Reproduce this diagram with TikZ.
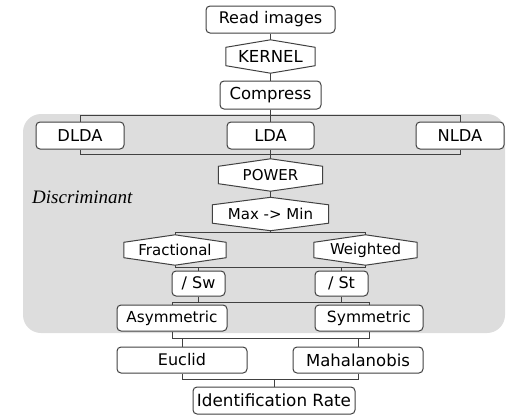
\documentclass[tikz,border=0pt]{standalone}
\usepackage{fontspec}
\setmainfont{DejaVu Sans}
\newfontfamily\discfont{Liberation Serif}
\definecolor{linegray}{RGB}{65,65,65}
\definecolor{panelgray}{RGB}{221,221,221}
\pgfdeclarelayer{graybg}
\pgfdeclarelayer{wires}
\pgfdeclarelayer{hexl}
\pgfsetlayers{graybg,wires,hexl,main}
\tikzset{
  boxline/.style={draw=linegray, line width=1pt},
  rbox/.style={boxline, fill=white, rounded corners=4pt, inner sep=0pt, align=center},
  hbox/.style={inner sep=0pt, align=center},
  wire/.style={draw=linegray, line width=1pt},
  tsize/.style={font=\fontsize{#1}{#1}\selectfont},
}
\newcommand{\hexout}[1]{%
  \begin{pgfonlayer}{hexl}
  \draw[boxline, fill=white, line join=miter]
    ([yshift=-7.5pt]#1.north west) -- (#1.north) -- ([yshift=-7.5pt]#1.north east)
    -- ([yshift=7.5pt]#1.south east) -- (#1.south) -- ([yshift=7.5pt]#1.south west) -- cycle;
  \end{pgfonlayer}}
\begin{document}
\begin{tikzpicture}[x=1pt,y=1pt]
\useasboundingbox (0,0) rectangle (510,-415);
\begin{pgfonlayer}{graybg}
\fill[panelgray, rounded corners=18pt] (23,-114) rectangle (505,-333);
\end{pgfonlayer}

% bus levels
\coordinate (y1) at (0,-115);
\coordinate (y2) at (0,-154);
\coordinate (y3) at (0,-232);
\coordinate (y4) at (0,-267);
\coordinate (y5) at (0,-302);
\coordinate (y6) at (0,-338);
\coordinate (y7) at (0,-379);

\node[rbox, minimum width=129pt, minimum height=27pt, tsize=16] (read) at (270.5,-19.5) {Read images};
\node[hbox, minimum width=89pt, minimum height=33pt, tsize=16.5] (kernel) at (270.5,-56.5) {KERNEL};
\hexout{kernel}
\node[rbox, minimum width=101pt, minimum height=28pt, tsize=16.5] (compress) at (270.5,-95) {Compress};

\node[rbox, minimum width=88pt, minimum height=27pt, tsize=16.3] (dlda) at (80,-135.5) {DLDA};
\node[rbox, minimum width=87pt, minimum height=27pt, tsize=16.3] (lda) at (270.5,-135.5) {LDA};
\node[rbox, minimum width=88pt, minimum height=27pt, tsize=16.3] (nlda) at (460,-135.5) {NLDA};

\node[hbox, minimum width=104pt, minimum height=32pt, tsize=15] (power) at (270.5,-175) {POWER};
\hexout{power}
\node[hbox, minimum width=116pt, minimum height=33pt, tsize=15] (maxmin) at (270.5,-214) {Max -> Min};
\hexout{maxmin}

\node[hbox, minimum width=102pt, minimum height=30pt, tsize=15] (frac) at (175,-250) {Fractional};
\hexout{frac}
\node[hbox, minimum width=103pt, minimum height=30pt, tsize=15] (weigh) at (365.5,-250) {Weighted};
\hexout{weigh}

\node[rbox, minimum width=53pt, minimum height=25pt, tsize=16] (sw) at (198.5,-283.5) {/ Sw};
\node[rbox, minimum width=53pt, minimum height=25pt, tsize=16] (st) at (341.5,-283.5) {/ St};

\node[rbox, minimum width=110pt, minimum height=26pt, tsize=15.2] (asym) at (172,-318) {Asymmetric};
\node[rbox, minimum width=108pt, minimum height=26pt, tsize=15.5] (sym) at (369,-318) {Symmetric};

\node[rbox, minimum width=130pt, minimum height=26pt, tsize=16] (euclid) at (182,-360) {Euclid};
\node[rbox, minimum width=130pt, minimum height=26pt, tsize=16.5] (maha) at (358,-360) {Mahalanobis};

\node[rbox, minimum width=162pt, minimum height=27pt, tsize=16.8] (idrate) at (274,-400.5) {Identification Rate};

\node[anchor=base west, inner sep=0pt, font=\discfont\itshape\fontsize{19}{19}\selectfont] (disc) at (32,-203) {Discriminant};

\begin{pgfonlayer}{wires}
\draw[wire] (read.south) -- (kernel.north);
\draw[wire] (kernel.south) -- (compress.north);
\foreach \t in {dlda,lda,nlda}{
  \draw[wire] (compress.south) -- (compress.south |- y1) -| (\t.north);
  \draw[wire] (\t.south) -- (\t.south |- y2) -| (power.north);
}
\draw[wire] (power.south) -- (maxmin.north);
\foreach \t in {frac,weigh}{
  \draw[wire] (maxmin.south) -- (maxmin.south |- y3) -| (\t.north);
}
\foreach \s in {frac,weigh}{
  \foreach \t in {sw,st}{
    \draw[wire] (\s.south) -- (\s.south |- y4) -| (\t.north);
  }
}
\foreach \s in {sw,st}{
  \foreach \t in {asym,sym}{
    \draw[wire] (\s.south) -- (\s.south |- y5) -| (\t.north);
  }
}
\foreach \s in {asym,sym}{
  \foreach \t in {euclid,maha}{
    \draw[wire] (\s.south) -- (\s.south |- y6) -| (\t.north);
  }
}
\foreach \s in {euclid,maha}{
  \draw[wire] (\s.south) -- (\s.south |- y7) -| (idrate.north);
}
\end{pgfonlayer}
\end{tikzpicture}
\end{document}
